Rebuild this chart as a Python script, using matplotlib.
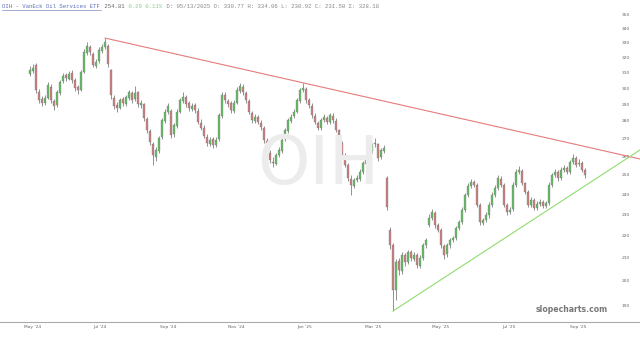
import matplotlib
matplotlib.use("Agg")
import matplotlib.pyplot as plt
from matplotlib.ticker import FixedLocator, NullLocator

# daily-ish candles, OIH
opens = [309.0, 311.0, 315.0, 297.5, 293.5, 290.5, 294.0, 301.0, 292.0, 289.5,
         297.0, 304.5, 308.5, 306.0, 309.5, 305.0, 300.5, 299.0, 310.5, 323.0,
         327.0, 322.5, 314.5, 317.5, 324.5, 327.5, 327.9, 311.7, 294.0, 289.5,
         288.0, 293.0, 290.0, 294.0, 297.0, 293.0, 297.5, 289.5, 290.0, 281.0,
         274.0, 266.5, 259.5, 263.0, 270.5, 280.0, 285.5, 286.0, 272.5, 277.0,
         285.5, 292.0, 294.5, 290.5, 287.0, 289.5, 286.0, 279.0, 276.0, 271.0,
         266.5, 269.5, 266.0, 269.5, 283.0, 296.0, 292.0, 290.5, 286.0, 291.0,
         298.5, 301.0, 297.0, 292.0, 285.0, 280.0, 282.5, 279.0, 276.0, 268.5,
         262.0, 257.0, 256.0, 260.5, 263.0, 269.5, 274.0, 280.0, 283.0, 285.5,
         292.0, 299.0, 299.5, 292.5, 289.0, 283.0, 279.0, 276.0, 280.5, 282.0,
         279.5, 283.0, 280.0, 274.5, 267.5, 260.0, 255.0, 248.0, 244.0, 247.5,
         248.0, 251.5, 256.0, 259.5, 263.0, 266.5, 266.5, 259.5, 263.0, 248.3,
         222.6, 215.6, 196.0, 208.5, 204.0, 211.0, 208.0, 212.5, 209.5, 211.0,
         206.5, 210.0, 215.5, 224.9, 228.5, 230.5, 225.0, 222.5, 215.0, 211.5,
         215.5, 218.0, 219.0, 223.5, 226.5, 232.0, 239.5, 244.0, 246.5, 244.5,
         234.5, 226.0, 227.5, 229.5, 234.5, 239.5, 243.0, 248.0, 244.5, 234.5,
         231.0, 232.5, 244.5, 251.5, 252.0, 245.5, 241.0, 234.5, 237.0, 233.0,
         235.0, 236.0, 234.0, 235.5, 244.5, 250.0, 251.5, 248.5, 252.5, 253.5,
         251.5, 257.0, 259.0, 255.5, 256.5, 252.5]
highs = [314.5, 316.0, 316.5, 299.5, 295.0, 295.5, 304.0, 302.5, 293.5, 299.0,
         305.5, 309.5, 310.0, 311.0, 311.5, 306.5, 302.0, 312.0, 325.5, 330.5,
         328.5, 324.0, 319.0, 327.0, 329.0, 333.4, 329.5, 312.5, 296.0, 291.5,
         294.0, 294.5, 296.0, 299.0, 298.5, 301.5, 298.5, 292.5, 291.0, 282.5,
         275.5, 268.0, 265.0, 271.5, 282.0, 287.0, 291.0, 287.0, 279.0, 287.0,
         294.0, 297.5, 296.0, 292.0, 291.0, 290.5, 287.5, 281.0, 277.5, 272.5,
         271.0, 270.5, 270.5, 285.0, 297.5, 297.5, 293.5, 292.0, 292.5, 300.5,
         303.0, 302.5, 298.5, 293.5, 286.0, 284.0, 283.5, 280.5, 277.0, 270.0,
         263.5, 259.5, 262.0, 265.0, 270.5, 276.0, 282.0, 284.0, 287.0, 294.0,
         300.0, 303.3, 300.5, 294.0, 290.5, 284.5, 280.0, 282.0, 284.0, 283.0,
         285.0, 284.5, 281.5, 275.5, 268.5, 261.5, 256.5, 250.0, 248.5, 250.0,
         253.0, 257.5, 261.0, 264.5, 267.5, 270.1, 267.5, 264.5, 266.0, 249.5,
         224.0, 216.5, 209.5, 210.0, 212.5, 212.0, 213.5, 213.5, 212.5, 212.0,
         211.0, 216.5, 219.0, 230.0, 232.5, 231.5, 226.0, 223.5, 216.0, 216.5,
         219.0, 220.0, 224.5, 227.5, 233.5, 240.5, 245.5, 248.0, 247.5, 245.5,
         235.5, 228.5, 231.0, 236.0, 241.0, 244.5, 250.0, 249.5, 245.5, 235.5,
         233.5, 246.0, 253.0, 254.5, 253.0, 246.5, 242.0, 238.5, 238.0, 236.5,
         237.5, 237.0, 236.5, 246.0, 251.0, 253.0, 252.5, 254.0, 255.0, 254.5,
         258.0, 261.0, 260.0, 258.5, 257.5, 253.5]
lows = [307.5, 309.5, 297.0, 290.5, 289.0, 289.5, 293.0, 291.0, 286.5, 288.5,
        296.0, 303.0, 304.5, 305.0, 303.5, 298.5, 296.5, 298.0, 309.5, 322.0,
        322.0, 313.5, 313.0, 316.5, 323.0, 326.0, 314.0, 293.5, 287.0, 285.5,
        287.0, 289.0, 289.0, 292.5, 291.0, 292.0, 288.5, 288.0, 280.0, 273.0,
        266.0, 255.2, 257.5, 262.0, 269.5, 279.0, 284.0, 270.0, 271.0, 276.0,
        284.5, 291.0, 288.5, 286.0, 286.0, 285.0, 278.0, 274.5, 270.0, 265.5,
        265.5, 264.5, 265.0, 268.5, 282.0, 291.0, 288.5, 285.0, 285.0, 290.0,
        297.0, 296.0, 291.0, 284.0, 279.0, 279.0, 278.0, 275.0, 267.5, 261.0,
        256.5, 254.0, 255.0, 259.5, 262.0, 268.5, 273.0, 279.0, 281.5, 284.5,
        291.0, 297.5, 291.0, 288.0, 282.0, 278.0, 274.5, 275.0, 279.5, 278.0,
        278.5, 279.0, 273.5, 266.5, 259.0, 254.0, 247.0, 239.6, 243.0, 246.0,
        247.0, 250.5, 255.0, 258.5, 262.0, 265.0, 257.5, 258.5, 262.0, 232.0,
        214.0, 187.7, 192.0, 202.5, 203.0, 206.5, 207.0, 208.5, 208.5, 205.5,
        205.5, 209.0, 214.5, 224.0, 227.5, 223.5, 221.5, 214.5, 209.5, 210.5,
        214.5, 217.0, 218.0, 222.5, 225.5, 231.0, 238.5, 243.0, 243.5, 233.5,
        225.0, 225.0, 226.5, 228.5, 233.5, 238.5, 242.0, 243.5, 233.5, 229.5,
        230.0, 231.5, 243.5, 250.5, 244.5, 240.0, 233.5, 233.5, 232.0, 232.0,
        234.0, 233.0, 233.0, 234.5, 243.5, 249.0, 247.0, 247.5, 251.5, 250.5,
        250.5, 256.0, 254.0, 254.5, 251.5, 248.5]
closes = [311.7, 313.0, 298.9, 292.6, 290.8, 293.9, 302.0, 292.6, 289.0, 297.6,
          303.9, 307.8, 306.5, 309.1, 305.2, 300.1, 298.9, 310.4, 323.8, 327.9,
          323.8, 315.0, 317.0, 325.1, 327.2, 330.6, 315.7, 295.7, 289.0, 287.7,
          292.6, 290.8, 294.5, 297.6, 292.6, 297.0, 290.2, 290.8, 281.7, 274.7,
          267.9, 260.6, 263.4, 270.1, 280.6, 285.3, 289.0, 271.8, 277.6, 285.3,
          292.6, 294.5, 290.2, 287.7, 289.0, 286.5, 279.4, 275.9, 271.3, 267.3,
          269.0, 266.2, 269.0, 283.5, 295.7, 292.6, 290.2, 286.5, 290.8, 298.9,
          301.4, 297.6, 292.6, 285.3, 280.6, 282.3, 279.4, 276.5, 269.0, 262.3,
          257.9, 256.3, 260.6, 263.4, 269.0, 274.7, 280.6, 282.3, 285.3, 292.6,
          298.9, 300.1, 292.6, 289.6, 283.5, 279.4, 275.9, 280.6, 282.3, 279.4,
          283.5, 280.6, 274.7, 267.9, 260.6, 255.2, 248.3, 244.7, 247.3, 248.3,
          251.5, 256.3, 259.5, 263.4, 266.2, 267.3, 259.0, 263.4, 264.5, 233.6,
          215.6, 196.1, 208.0, 204.6, 211.1, 208.0, 212.5, 209.8, 211.1, 206.7,
          209.8, 215.6, 217.9, 228.2, 231.1, 224.9, 222.6, 215.6, 211.1, 215.6,
          217.9, 218.8, 223.5, 226.3, 232.1, 239.6, 244.2, 246.2, 244.7, 234.6,
          226.3, 227.3, 229.7, 234.6, 239.6, 243.1, 248.3, 244.7, 234.6, 231.1,
          232.1, 244.7, 251.5, 252.5, 245.7, 241.1, 234.6, 237.1, 233.1, 235.1,
          236.1, 234.1, 235.6, 244.7, 249.9, 251.5, 248.3, 252.5, 253.6, 251.5,
          256.8, 259.0, 255.2, 256.3, 252.5, 249.9]

month_labels = ["May '24", "Jul '24", "Sep '24", "Nov '24", "Jan '25",
                "Mar '25", "May '25", "Jul '25", "Sep '25"]
month_pos = [1, 23.3, 46, 68.7, 91.7, 114.3, 137, 159.7, 182.7]
price_ticks = [190, 200, 210, 220, 230, 240, 250, 260, 270, 280,
               290, 300, 310, 320, 330, 340, 350]

# trendlines: (candle index, price)
res_line = [(25, 333.4), (203.3, 258.5)]
sup_line = [(121, 187.7), (203.3, 263.4)]

UP = '#66bd66'
DOWN = '#cc8282'

fig = plt.figure(figsize=(6.4, 3.37), dpi=100)
ax = fig.add_axes([0, 15 / 337, 1, 1 - 15 / 337])
ax.set_yscale('log')

# watermark
fig.text(0.498, 0.51, 'OIH', fontsize=48, color='#ececec', ha='center',
         va='center', zorder=0)

n = len(closes)
xs = list(range(n))
cols = [UP if c >= o else DOWN for o, c in zip(opens, closes)]
ax.vlines(xs, lows, highs, color='#555555', linewidth=0.45, zorder=2)
bottoms = [min(o, c) for o, c in zip(opens, closes)]
heights = [abs(c - o) for o, c in zip(opens, closes)]
ax.bar(xs, heights, bottom=bottoms, width=0.85, color=cols,
       edgecolor='#6a6a6a', linewidth=0.2, zorder=3)

ax.plot([p[0] for p in res_line], [p[1] for p in res_line], color='#e57b7b',
        linewidth=0.8, zorder=4)
ax.plot([p[0] for p in sup_line], [p[1] for p in sup_line], color='#8fdc6e',
        linewidth=0.8, zorder=4)

ax.set_xlim(-10, 203.33)
ax.set_ylim(183.4, 361.2)

ax.yaxis.tick_right()
ax.yaxis.set_major_locator(FixedLocator(price_ticks))
ax.yaxis.set_minor_locator(NullLocator())
ax.set_yticklabels([str(t) for t in price_ticks])
ax.tick_params(axis='y', length=0, pad=-13, labelsize=3.2, labelcolor='#666666')

ax.set_xticks(month_pos)
ax.set_xticklabels(month_labels)
ax.tick_params(axis='x', length=0, pad=2.5, labelsize=3.2, labelcolor='#666666')

for s in ['top', 'left', 'right']:
    ax.spines[s].set_visible(False)
ax.spines['bottom'].set_color('#aaaaaa')
ax.spines['bottom'].set_linewidth(0.8)

# header line, monospace segments
parts = [("OIH - VanEck Oil Services ETF", '#5d6fb5', True),
         (" 254.81", '#666666', False),
         (" 0.29 0.11%", '#8cc98c', False),
         (" D: 05/13/2025 O: 330.77 H: 334.06 L: 230.92 C: 231.50 \u03a3: 328.18",
          '#888888', False)]
cw = 3.42 / 640
x0 = 2 / 640
for txt, col, ul in parts:
    fig.text(x0, 1 - 6 / 337, txt, fontsize=4.1, family='Liberation Mono',
             color=col, va='center', ha='left')
    if ul:
        fig.add_artist(plt.Line2D([x0, x0 + cw * len(txt)],
                                  [1 - 9.5 / 337, 1 - 9.5 / 337],
                                  color=col, linewidth=0.4))
    x0 += cw * len(txt)

fig.text(608 / 640, 1 - 309 / 337, 'slopecharts.com', fontsize=5.6,
         fontweight='bold', color='#777777', ha='right', va='center')

fig.savefig('out.png', dpi=100)
